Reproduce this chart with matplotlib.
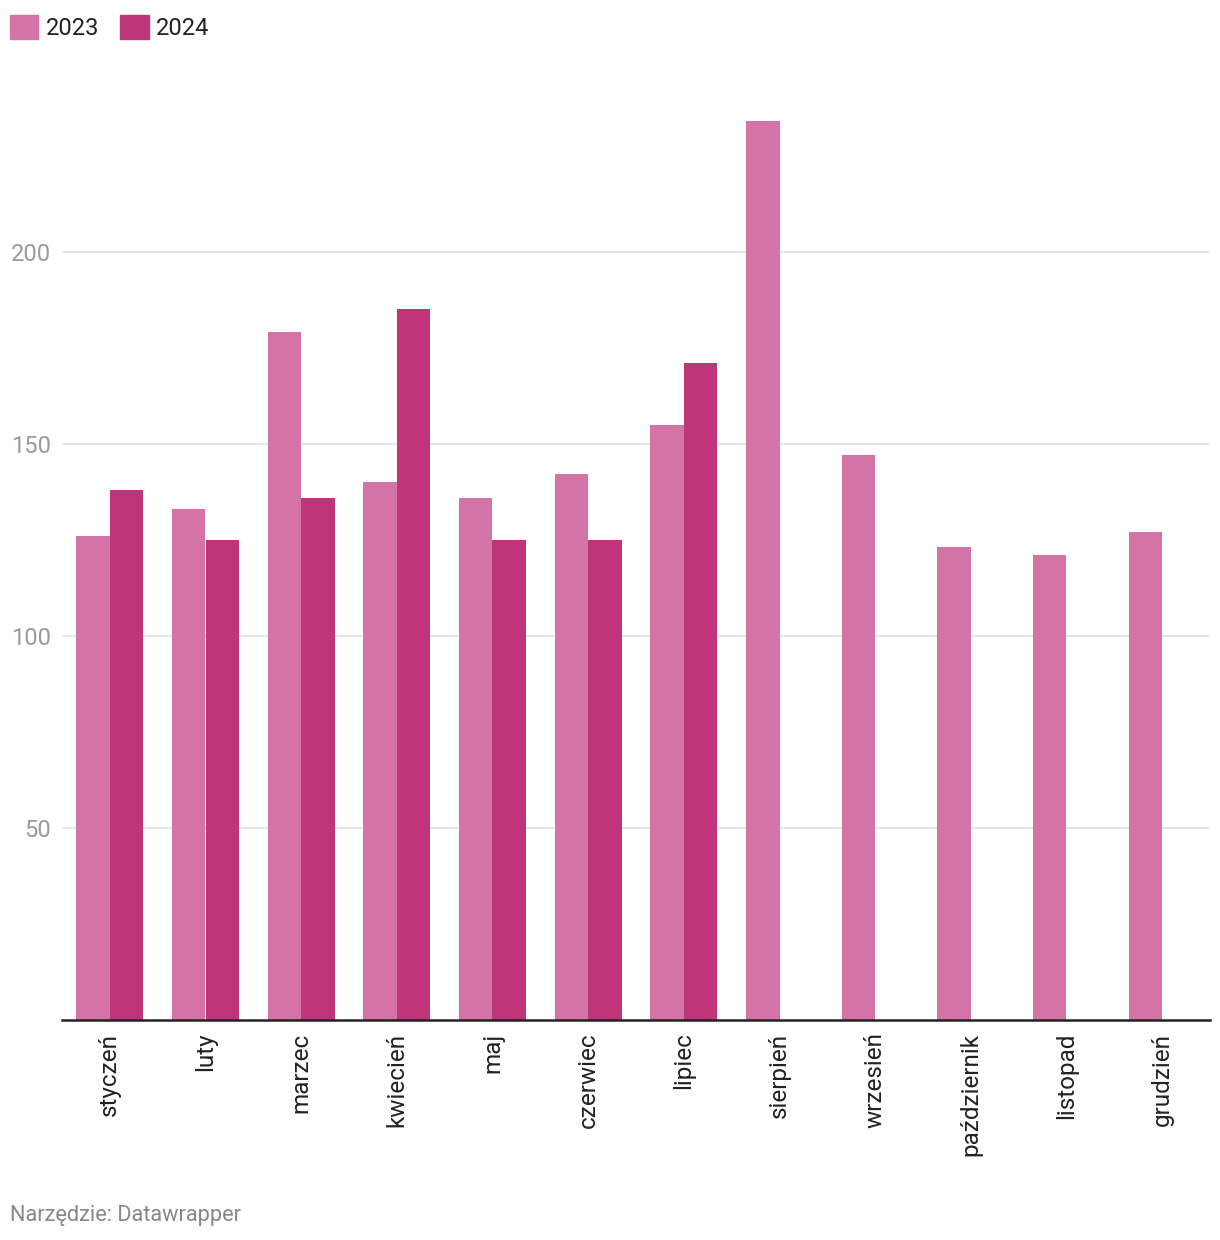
import numpy as np
import matplotlib.pyplot as plt
from matplotlib.patches import Patch

plt.rcParams['font.family'] = ['Roboto', 'DejaVu Sans']

miesiace = ['styczeń', 'luty', 'marzec', 'kwiecień', 'maj', 'czerwiec',
            'lipiec', 'sierpień', 'wrzesień', 'październik', 'listopad', 'grudzień']
v2023 = [126, 133, 179, 140, 136, 142, 155, 234, 147, 123, 121, 127]
v2024 = [138, 125, 136, 185, 125, 125, 171]
yticks = [50, 100, 150, 200]

c2023 = '#d473a5'
c2024 = '#bf357a'

fig = plt.figure(figsize=(12.2, 12.4), dpi=100)
ax = fig.add_axes([62 / 1220, 1 - 1020 / 1240, 1148 / 1220, 922 / 1240])

x = np.arange(len(miesiace))
w = 0.35
ax.bar(x - w / 2, v2023, width=w, color=c2023, zorder=2)
ax.bar(x[:len(v2024)] + w / 2, v2024, width=w, color=c2024, zorder=2)

ax.set_xlim(-0.5, len(miesiace) - 0.5)
ax.set_ylim(0, 240)
ax.set_yticks(yticks)
ax.yaxis.grid(True, color='#e2e2e2', linewidth=1.2, zorder=0)
ax.tick_params(axis='y', length=0, labelsize=17, labelcolor='#9a9a9a', pad=8)
ax.set_xticks(x)
ax.set_xticklabels(miesiace, rotation=90, va='top', ha='center')
ax.tick_params(axis='x', length=0, labelsize=17.5, labelcolor='#222222', pad=9)
for s in ['top', 'right', 'left']:
    ax.spines[s].set_visible(False)
ax.spines['bottom'].set_color('#222222')
ax.spines['bottom'].set_linewidth(1.8)
ax.spines['bottom'].set_zorder(3)

handles = [Patch(color=c2023, label='2023'), Patch(color=c2024, label='2024')]
fig.legend(handles=handles, loc='upper left', bbox_to_anchor=(0.0025, 0.994), ncol=2,
           frameon=False, fontsize=17, handlelength=1.2, handleheight=1.2,
           handletextpad=0.3, columnspacing=0.9, borderaxespad=0.0,
           borderpad=0.3, labelcolor='#222222')

fig.text(10 / 1220, 1 - 1215 / 1240, 'Narzędzie: Datawrapper', fontsize=15.7,
         color='#888888', va='center', ha='left')

plt.savefig('out.png', dpi=100)
